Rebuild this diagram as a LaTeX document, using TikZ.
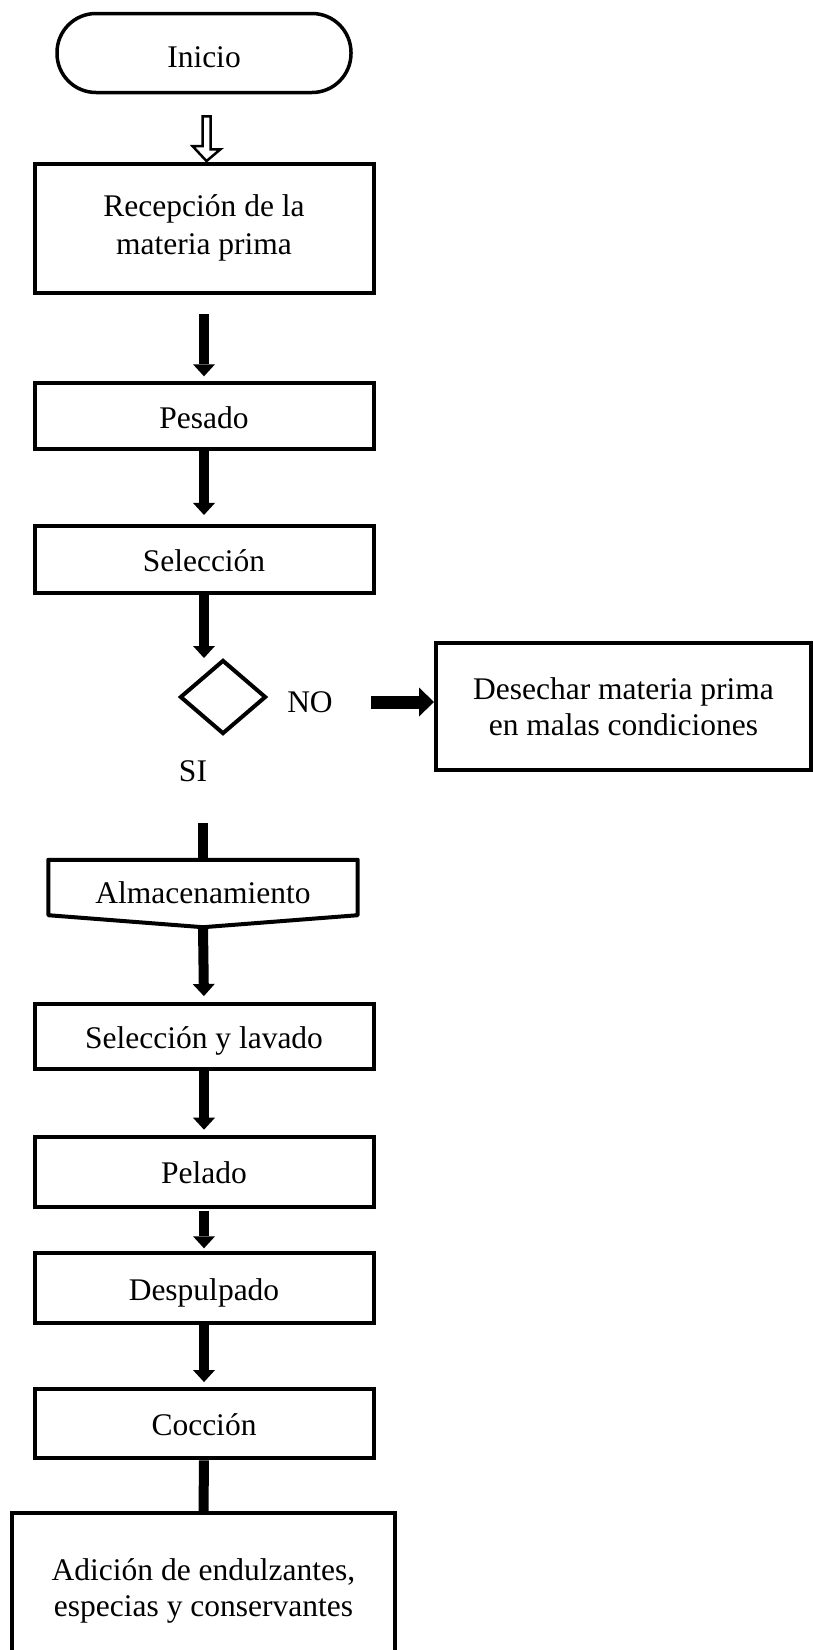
\documentclass[tikz,border=0pt]{standalone}
\usepackage{fontspec}
\setmainfont{Liberation Serif}
\usetikzlibrary{arrows.meta,shapes.geometric,calc}
\begin{document}
\begin{tikzpicture}[x=1pt,y=-1pt,
  every node/.style={font=\fontsize{31.5}{36}\selectfont, inner sep=0pt},
  box/.style={draw, line width=4pt, minimum width=339pt, align=center},
  oneline/.style={text height=24pt, text depth=0pt},
  term/.style={draw, line width=3.5pt, rounded corners=39pt, minimum width=294pt, minimum height=79pt},
  flow/.style={line width=10pt, -{Triangle[width=22pt,length=12pt,line width=0pt]}},
  bigflow/.style={line width=13pt, -{Triangle[width=29pt,length=15pt,line width=0pt]}},
  bar/.style={line width=10pt},
  hollow/.style={line width=2.5pt, line join=miter},
]
\useasboundingbox (0,0) rectangle (813,1650);
\clip (0,0) rectangle (813,1650);

\node[term, text height=28.6pt, text depth=0pt] (start) at (204,53) {Inicio};
\node[box, minimum height=128.5pt, font=\fontsize{31.5}{38}\selectfont] (rec) at (204,228.3) {Recepción de la\\materia prima};
\node[box, oneline, minimum height=66pt] (pes) at (204,416.3) {Pesado};
\node[box, oneline, minimum height=66.7pt] (sel) at (204,559.3) {Selección};
\node[draw, diamond, line width=4pt, minimum width=86pt, minimum height=74pt] (dia) at (223,697) {};
\node (no) at (310,702) {NO};
\node[box, minimum width=375pt, minimum height=127pt] (des) at (623.5,706.5) {Desechar materia prima\\en malas condiciones};
\node (si) at (193,771) {SI};
\node[text height=31pt, text depth=0pt, minimum width=309pt, minimum height=55pt] (alm) at (203,887.5) {Almacenamiento};
\draw[line width=4pt, line join=round] (alm.north west) -- (alm.north east) -- (alm.south east) -- ($(alm.south)+(0,12)$) -- (alm.south west) -- cycle;
\coordinate (simark) at (203,823);
\coordinate (almtip) at ($(alm.south)+(0,12)$);
\node[box, oneline, minimum height=65.3pt] (lav) at (204,1036.7) {Selección y lavado};
\node[box, oneline, minimum height=70pt] (pel) at (204,1171.7) {Pelado};
\node[box, oneline, minimum height=70pt] (dsp) at (204,1288.3) {Despulpado};
\node[box, oneline, minimum height=69.3pt] (coc) at (204,1423.7) {Cocción};
\node[box, minimum width=383pt, minimum height=156pt] (fin) at (203.5,1591) {Adición de endulzantes,\\especias y conservantes};

\draw[hollow] ($(start.south)+(-1.5,22)$) -- ++(8,0) -- ++(0,33) -- ++(10,0) -- ($(rec.north)+(2.5,-1)$) -- ++(-14,-15) -- ++(10,0) -- cycle;
\draw[flow, shorten <=19.5pt, shorten >=5pt] (rec.south) -- (pes.north);
\draw[flow, shorten >=9pt] (pes.south) -- (sel.north);
\draw[flow] (sel.south) -- (sel.south |- dia.north);
\draw[bigflow] ($(no.east)+(38,0)$) -- (des.west |- no.east);
\draw[bar] (simark) -- (simark |- alm.north);
\draw[flow, shorten >=6pt] (almtip) -- (lav.north);
\draw[flow, shorten >=5pt] (lav.south) -- (pel.north);
\draw[flow, shorten <=2pt, shorten >=3pt] (pel.south) -- (dsp.north);
\draw[flow, shorten >=5pt] (dsp.south) -- (coc.north);
\draw[bar] (coc.south) -- (fin.north);
\end{tikzpicture}
\end{document}
